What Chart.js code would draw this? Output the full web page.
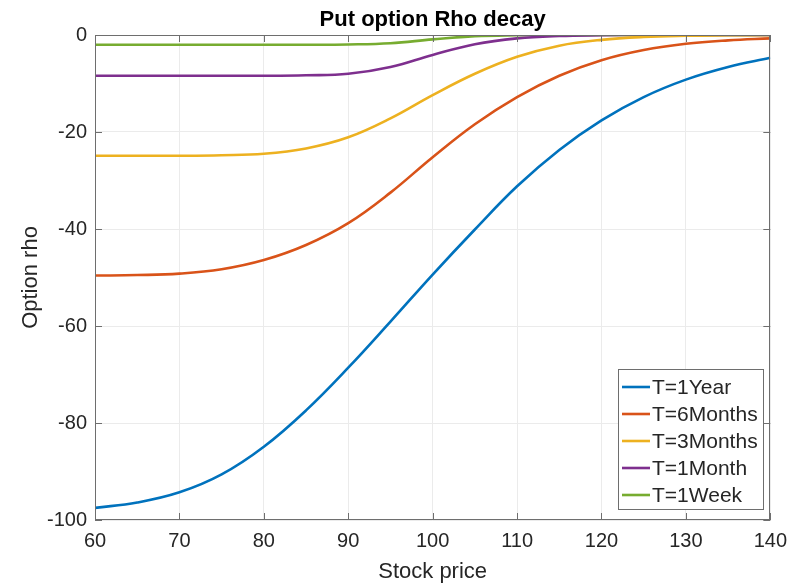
<!DOCTYPE html>
<html>
<head>
<meta charset="utf-8">
<script src="https://cdn.jsdelivr.net/npm/chart.js@4.4.1/dist/chart.umd.min.js"></script>
<style>
  html, body { margin: 0; padding: 0; background: #fff; }
  #wrap { width: 796px; height: 583px; }
</style>
</head>
<body>
<div id="wrap"><canvas id="chart" width="796" height="583"></canvas></div>
<script>
// Datos
const stockPrice = [60, 65, 70, 75, 80, 85, 90, 95, 100, 105, 110, 115, 120, 125, 130, 135, 140];
const rho1Year   = [-97.5, -96.4, -94.3, -90.6, -84.9, -77.4, -68.6, -59.1, -49.4, -40.1, -31.2, -23.7, -17.6, -12.8, -9.2, -6.6, -4.7];
const rho6Months = [-49.6, -49.5, -49.2, -48.3, -46.4, -43.3, -38.8, -32.5, -25.2, -18.4, -12.8, -8.4, -5.2, -3.1, -1.8, -1.1, -0.7];
const rho3Months = [-24.9, -24.9, -24.9, -24.8, -24.5, -23.4, -21.1, -17.2, -12.4, -8.0, -4.5, -2.2, -1.0, -0.4, -0.15, -0.05, 0];
const rho1Month  = [-8.4, -8.4, -8.4, -8.4, -8.4, -8.3, -8.0, -6.6, -4.1, -1.9, -0.7, -0.2, -0.05, 0, 0, 0, 0];
const rho1Week   = [-2.0, -2.0, -2.0, -2.0, -2.0, -2.0, -1.95, -1.7, -0.9, -0.25, -0.05, 0, 0, 0, 0, 0, 0];

const seriesNames = ['T=1Year', 'T=6Months', 'T=3Months', 'T=1Month', 'T=1Week'];
const seriesColors = ['#0072BD', '#D95319', '#EDB120', '#7E2F8E', '#77AC30'];
const xTicks = [60, 70, 80, 90, 100, 110, 120, 130, 140];
const yTicks = [-100, -80, -60, -40, -20, 0];

const FONT = '"Liberation Sans", Arial, Helvetica, sans-serif';
const TEXT = '#262626';
const AXIS = '#6e6e6e';

function puntos(valores) {
    return stockPrice.map((x, i) => ({ x: x, y: valores[i] }));
}

const todas = [rho1Year, rho6Months, rho3Months, rho1Month, rho1Week];
const datasets = todas.map((vals, i) => ({
    label: seriesNames[i],
    data: puntos(vals),
    borderColor: seriesColors[i],
    backgroundColor: seriesColors[i],
    borderWidth: 2.6,
    pointRadius: 0,
    tension: 0.4,
    fill: false
}));

// Caja, ticks interiores, titulos y leyenda al estilo MATLAB
const estiloMatlab = {
    id: 'estiloMatlab',
    afterDraw(chart) {
        const ctx = chart.ctx;
        const a = chart.chartArea;
        const xs = chart.scales.x, ys = chart.scales.y;
        ctx.save();

        // caja
        ctx.strokeStyle = AXIS;
        ctx.lineWidth = 1;
        ctx.strokeRect(Math.round(a.left) + 0.5, Math.round(a.top) + 0.5,
                       Math.round(a.right - a.left) - 1, Math.round(a.bottom - a.top) - 1);

        // ticks hacia dentro
        const tl = 7;
        ctx.beginPath();
        xTicks.forEach(v => {
            const px = Math.round(xs.getPixelForValue(v)) + 0.5;
            ctx.moveTo(px, a.bottom); ctx.lineTo(px, a.bottom - tl);
            ctx.moveTo(px, a.top); ctx.lineTo(px, a.top + tl);
        });
        yTicks.forEach(v => {
            const py = Math.round(ys.getPixelForValue(v)) + 0.5;
            ctx.moveTo(a.left, py); ctx.lineTo(a.left + tl, py);
            ctx.moveTo(a.right, py); ctx.lineTo(a.right - tl, py);
        });
        ctx.stroke();

        // titulo
        const cx = (a.left + a.right) / 2;
        ctx.fillStyle = '#000';
        ctx.textAlign = 'center';
        ctx.textBaseline = 'alphabetic';
        ctx.font = 'bold 22px ' + FONT;
        ctx.fillText('Put option Rho decay', cx, 26);

        // titulos de ejes
        ctx.fillStyle = TEXT;
        ctx.font = '22px ' + FONT;
        ctx.fillText('Stock price', cx, 578);
        ctx.save();
        ctx.translate(37, (a.top + a.bottom) / 2);
        ctx.rotate(-Math.PI / 2);
        ctx.fillText('Option rho', 0, 0);
        ctx.restore();

        // leyenda
        const lx = 618, ly = 369, lw = 145, lh = 140;
        ctx.fillStyle = '#fff';
        ctx.fillRect(lx, ly, lw, lh);
        ctx.strokeStyle = AXIS;
        ctx.strokeRect(lx + 0.5, ly + 0.5, lw, lh);
        ctx.font = '21px ' + FONT;
        ctx.textAlign = 'left';
        ctx.textBaseline = 'middle';
        seriesNames.forEach((name, i) => {
            const y = ly + 18 + i * 27;
            ctx.strokeStyle = seriesColors[i];
            ctx.lineWidth = 2.6;
            ctx.beginPath();
            ctx.moveTo(622, y); ctx.lineTo(650, y);
            ctx.stroke();
            ctx.fillStyle = TEXT;
            ctx.fillText(name, 652, y + 1);
        });
        ctx.restore();
    }
};

new Chart(document.getElementById('chart'), {
    type: 'line',
    data: { datasets: datasets },
    options: {
        responsive: false,
        animation: false,
        devicePixelRatio: 1,
        layout: { padding: { top: 35, right: 24, left: 0, bottom: 0 } },
        plugins: {
            legend: { display: false },
            title: { display: false },
            tooltip: { enabled: false }
        },
        scales: {
            x: {
                type: 'linear',
                min: 60,
                max: 140,
                afterFit(scale) { scale.height = 63; },
                afterBuildTicks(scale) { scale.ticks = xTicks.map(v => ({ value: v })); },
                ticks: { font: { family: FONT, size: 20 }, color: TEXT, padding: 9 },
                grid: { color: '#ebebeb', drawTicks: false },
                border: { display: false }
            },
            y: {
                min: -100,
                max: 0,
                afterFit(scale) { scale.width = 95; },
                afterBuildTicks(scale) { scale.ticks = yTicks.map(v => ({ value: v })); },
                ticks: { font: { family: FONT, size: 20 }, color: TEXT, padding: 8 },
                grid: { color: '#ebebeb', drawTicks: false },
                border: { display: false }
            }
        }
    },
    plugins: [estiloMatlab]
});
</script>
</body>
</html>
